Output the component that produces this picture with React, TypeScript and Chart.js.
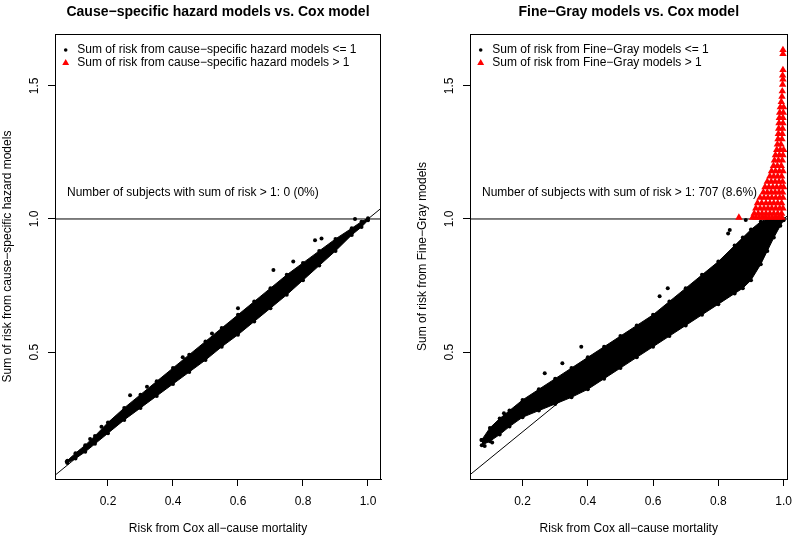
import { useEffect, useRef } from "react";
import { Chart, registerables } from "chart.js";

Chart.register(...registerables);

const FONT = "'Liberation Sans', Arial, Helvetica, sans-serif";
Chart.defaults.font.family = FONT;

// ---- shared axis data ----
const X_TICKS = [0.2, 0.4, 0.6, 0.8, 1.0];
const Y_TICKS = [0.5, 1.0, 1.5];
const Y_RANGE = [0.023, 1.695];
const REF_LEVEL = 1;
const DIAGONAL = [0, 1.2];
const X_LABEL = "Risk from Cox all−cause mortality";

// ---- left panel: cause-specific hazard models ----
const CS_TITLE = "Cause−specific hazard models vs. Cox model";
const CS_YLABEL = "Sum of risk from cause−specific hazard models";
const CS_LEGEND = [
  "Sum of risk from cause−specific hazard models <= 1",
  "Sum of risk from cause−specific hazard models > 1",
];
const CS_NOTE = "Number of subjects with sum of risk > 1: 0 (0%)";
const CS_X_RANGE = [0.037, 1.04];
const CS_BAND_X = [0.075, 0.10, 0.13, 0.16, 0.20, 0.25, 0.30, 0.35, 0.40, 0.45, 0.50, 0.55, 0.60, 0.65, 0.70, 0.75, 0.80, 0.85, 0.90, 0.95, 0.98, 1.00];
const CS_BAND_LO = [0.083, 0.10, 0.125, 0.155, 0.195, 0.245, 0.29, 0.335, 0.38, 0.425, 0.47, 0.52, 0.565, 0.615, 0.665, 0.715, 0.77, 0.825, 0.88, 0.94, 0.97, 0.995];
const CS_BAND_HI = [0.092, 0.12, 0.15, 0.185, 0.235, 0.29, 0.34, 0.39, 0.44, 0.49, 0.54, 0.59, 0.64, 0.69, 0.74, 0.79, 0.835, 0.88, 0.925, 0.965, 0.99, 1.003];
const CS_OUT_X = [0.073, 0.09, 0.118, 0.145, 0.18, 0.211, 0.268, 0.32, 0.43, 0.52, 0.6, 0.709, 0.77, 0.837, 0.857, 0.96];
const CS_OUT_Y = [0.088, 0.1, 0.128, 0.173, 0.219, 0.238, 0.338, 0.37, 0.48, 0.57, 0.665, 0.808, 0.84, 0.92, 0.927, 1.0];
const CS_RED_Y: number[] = [];
const CS_RED_X: number[][] = [];

// ---- right panel: Fine-Gray models ----
const FG_TITLE = "Fine−Gray models vs. Cox model";
const FG_YLABEL = "Sum of risk from Fine−Gray models";
const FG_LEGEND = [
  "Sum of risk from Fine−Gray models <= 1",
  "Sum of risk from Fine−Gray models > 1",
];
const FG_NOTE = "Number of subjects with sum of risk > 1: 707 (8.6%)";
const FG_X_RANGE = [0.039, 1.012];
const FG_BAND_X = [0.075, 0.10, 0.13, 0.16, 0.20, 0.25, 0.30, 0.35, 0.40, 0.45, 0.50, 0.55, 0.60, 0.65, 0.70, 0.75, 0.80, 0.85, 0.875, 0.90, 0.93, 0.95, 0.97, 0.99, 1.00];
const FG_BAND_LO = [0.15, 0.165, 0.19, 0.22, 0.255, 0.28, 0.305, 0.33, 0.36, 0.40, 0.44, 0.48, 0.52, 0.56, 0.60, 0.64, 0.68, 0.72, 0.74, 0.77, 0.83, 0.88, 0.93, 0.975, 0.995];
const FG_BAND_HI = [0.17, 0.215, 0.25, 0.28, 0.32, 0.36, 0.40, 0.44, 0.48, 0.52, 0.56, 0.60, 0.64, 0.69, 0.74, 0.79, 0.84, 0.90, 0.93, 0.96, 0.99, 1.0, 1.0, 1.0, 1.0];
const FG_OUT_X = [0.074, 0.084, 0.107, 0.107, 0.143, 0.268, 0.322, 0.38, 0.62, 0.645, 0.83, 0.835, 0.884];
const FG_OUT_Y = [0.17, 0.147, 0.16, 0.2, 0.27, 0.42, 0.458, 0.52, 0.71, 0.74, 0.945, 0.959, 0.996];
const FG_RED_Y = [1.005, 1.02, 1.04, 1.06, 1.08, 1.10, 1.12, 1.14, 1.16, 1.18, 1.20, 1.22, 1.24, 1.26, 1.28, 1.30, 1.32, 1.34, 1.36, 1.38, 1.40, 1.42, 1.44, 1.46, 1.48, 1.505, 1.525, 1.54, 1.56, 1.62, 1.635];
const FG_RED_X = [
  [0.863, 0.905, 0.915, 0.925, 0.935, 0.945, 0.955, 0.965, 0.975, 0.985, 0.995],
  [0.91, 0.922, 0.934, 0.946, 0.958, 0.97, 0.982, 0.994],
  [0.915, 0.928, 0.94, 0.952, 0.964, 0.976, 0.988, 0.998],
  [0.92, 0.933, 0.946, 0.958, 0.97, 0.982, 0.994],
  [0.928, 0.94, 0.952, 0.964, 0.976, 0.988, 0.998],
  [0.938, 0.95, 0.962, 0.974, 0.986, 0.997],
  [0.943, 0.955, 0.967, 0.979, 0.991, 1.0],
  [0.95, 0.962, 0.974, 0.986, 0.997],
  [0.958, 0.97, 0.982, 0.994],
  [0.963, 0.975, 0.987, 0.998],
  [0.969, 0.981, 0.993],
  [0.972, 0.984, 0.996],
  [0.975, 0.987, 0.998],
  [0.979, 0.99, 1.0],
  [0.981, 0.992],
  [0.983, 0.995],
  [0.984, 0.996],
  [0.985, 0.997],
  [0.986, 0.998],
  [0.987, 0.998],
  [0.988, 0.999],
  [0.99, 1.0],
  [0.993],
  [0.995],
  [0.996],
  [0.997],
  [0.998],
  [0.997],
  [0.998],
  [0.998],
  [0.998],
];

type Spec = {
  title: string;
  yLabel: string;
  legend: string[];
  note: string;
  xRange: number[];
  bandX: number[];
  bandLo: number[];
  bandHi: number[];
  outX: number[];
  outY: number[];
  redY: number[];
  redX: number[][];
  yAxisWidth: number;
  rightPad: number;
  yTitlePad: number;
};

const CS: Spec = {
  title: CS_TITLE, yLabel: CS_YLABEL, legend: CS_LEGEND, note: CS_NOTE, xRange: CS_X_RANGE,
  bandX: CS_BAND_X, bandLo: CS_BAND_LO, bandHi: CS_BAND_HI, outX: CS_OUT_X, outY: CS_OUT_Y,
  redY: CS_RED_Y, redX: CS_RED_X, yAxisWidth: 55, rightPad: 19, yTitlePad: 0,
};
const FG: Spec = {
  title: FG_TITLE, yLabel: FG_YLABEL, legend: FG_LEGEND, note: FG_NOTE, xRange: FG_X_RANGE,
  bandX: FG_BAND_X, bandLo: FG_BAND_LO, bandHi: FG_BAND_HI, outX: FG_OUT_X, outY: FG_OUT_Y,
  redY: FG_RED_Y, redX: FG_RED_X, yAxisWidth: 70, rightPad: 4, yTitlePad: 15,
};

const BLACK = "#000000";
const RED = "#ff0000";

const decorPlugin = {
  id: "decor",
  afterDraw(chart: any, _args: any, opts: any) {
    const spec: Spec = opts.spec;
    const { ctx, chartArea: a } = chart;
    ctx.save();
    // box
    ctx.strokeStyle = BLACK;
    ctx.lineWidth = 1;
    ctx.strokeRect(Math.round(a.left) + 0.5, Math.round(a.top) + 0.5, Math.round(a.right - a.left) - 1, Math.round(a.bottom - a.top));
    // title
    ctx.fillStyle = BLACK;
    ctx.font = `bold 14px ${FONT}`;
    ctx.textAlign = "center";
    ctx.textBaseline = "middle";
    ctx.fillText(spec.title, (a.left + a.right) / 2, 12);
    // legend
    ctx.font = `12px ${FONT}`;
    ctx.textAlign = "left";
    const mx = a.left + 10.7;
    const tx = a.left + 22.3;
    const r1 = a.top + 16;
    const r2 = a.top + 29;
    ctx.beginPath();
    ctx.arc(mx, r1, 1.8, 0, Math.PI * 2);
    ctx.fillStyle = BLACK;
    ctx.fill();
    ctx.beginPath();
    const tr = 4;
    ctx.moveTo(mx, r2 - tr);
    ctx.lineTo(mx + tr * 0.866, r2 + tr * 0.5);
    ctx.lineTo(mx - tr * 0.866, r2 + tr * 0.5);
    ctx.closePath();
    ctx.fillStyle = RED;
    ctx.fill();
    ctx.fillStyle = BLACK;
    ctx.fillText(spec.legend[0], tx, r1);
    ctx.fillText(spec.legend[1], tx, r2);
    // note
    ctx.fillText(spec.note, a.left + 12, 193);
    ctx.restore();
  },
};

function pts(xs: number[], ys: number[]) {
  return xs.map((x, i) => ({ x, y: ys[i] }));
}

function makeConfig(spec: Spec): any {
  const red: { x: number; y: number }[] = [];
  spec.redY.forEach((y, i) => spec.redX[i].forEach((x) => red.push({ x, y })));
  const tickFont = { size: 12, family: FONT };
  return {
    type: "line",
    data: {
      datasets: [
        {
          data: red, showLine: false, pointStyle: "triangle", pointRadius: 4.3,
          pointBackgroundColor: RED, pointBorderColor: RED, pointBorderWidth: 0,
        },
        {
          data: pts(spec.outX, spec.outY), showLine: false, pointStyle: "circle", pointRadius: 2,
          pointBackgroundColor: BLACK, pointBorderColor: BLACK, pointBorderWidth: 0,
        },
        {
          data: pts(spec.bandX, spec.bandHi), showLine: true, borderColor: BLACK, borderWidth: 1,
          backgroundColor: BLACK, fill: "+1", pointRadius: 2,
          pointBackgroundColor: BLACK, pointBorderColor: BLACK, pointBorderWidth: 0,
        },
        {
          data: pts(spec.bandX, spec.bandLo), showLine: true, borderColor: BLACK, borderWidth: 1,
          fill: false, pointRadius: 2,
          pointBackgroundColor: BLACK, pointBorderColor: BLACK, pointBorderWidth: 0,
        },
        {
          data: [{ x: spec.xRange[0], y: REF_LEVEL }, { x: spec.xRange[1], y: REF_LEVEL }],
          showLine: true, borderColor: BLACK, borderWidth: 1, pointRadius: 0, fill: false, clip: 0,
        },
        {
          data: DIAGONAL.map((v) => ({ x: v, y: v })),
          showLine: true, borderColor: BLACK, borderWidth: 1, pointRadius: 0, fill: false, clip: 0,
        },
      ],
    },
    options: {
      responsive: false,
      maintainAspectRatio: false,
      animation: false,
      devicePixelRatio: 1,
      events: [],
      layout: { padding: { left: 0, right: spec.rightPad, top: 34, bottom: 0 } },
      plugins: {
        legend: { display: false },
        tooltip: { enabled: false },
        title: { display: false },
        decor: { spec },
      },
      scales: {
        x: {
          type: "linear",
          position: "bottom",
          min: spec.xRange[0],
          max: spec.xRange[1],
          afterBuildTicks: (s: any) => { s.ticks = X_TICKS.map((v) => ({ value: v })); },
          afterFit: (s: any) => { s.height = 58; },
          ticks: {
            callback: (v: any) => Number(v).toFixed(1),
            color: BLACK, font: tickFont, padding: 8, maxRotation: 0, minRotation: 0, autoSkip: false,
          },
          grid: { display: true, drawOnChartArea: false, drawTicks: true, tickLength: 7, color: BLACK, lineWidth: 1 },
          border: { display: true, color: BLACK, width: 1 },
          title: { display: true, text: X_LABEL, color: BLACK, font: tickFont, padding: { top: 0, bottom: 1 } },
        },
        y: {
          type: "linear",
          position: "left",
          min: Y_RANGE[0],
          max: Y_RANGE[1],
          afterBuildTicks: (s: any) => { s.ticks = Y_TICKS.map((v) => ({ value: v })); },
          afterFit: (s: any) => { s.width = spec.yAxisWidth; },
          ticks: {
            callback: (v: any) => Number(v).toFixed(1),
            color: BLACK, font: tickFont, padding: 5, minRotation: 90, maxRotation: 90,
            crossAlign: "center", autoSkip: false,
          },
          grid: { display: true, drawOnChartArea: false, drawTicks: true, tickLength: 7, color: BLACK, lineWidth: 1 },
          border: { display: true, color: BLACK, width: 1 },
          title: { display: true, text: spec.yLabel, color: BLACK, font: tickFont, padding: { top: spec.yTitlePad, bottom: 0 } },
        },
      },
    },
    plugins: [decorPlugin],
  };
}

function Panel({ spec, left }: { spec: Spec; left: number }) {
  const ref = useRef<HTMLCanvasElement>(null);
  useEffect(() => {
    const chart = new Chart(ref.current as HTMLCanvasElement, makeConfig(spec));
    return () => chart.destroy();
  }, [spec]);
  return (
    <canvas
      ref={ref}
      width={400}
      height={537}
      style={{ position: "absolute", left, top: 0, width: 400, height: 537 }}
    />
  );
}

export default function App() {
  return (
    <div style={{ position: "fixed", left: 0, top: 0, width: 800, height: 537, background: "#ffffff", overflow: "hidden" }}>
      <Panel spec={CS} left={0} />
      <Panel spec={FG} left={400} />
    </div>
  );
}
